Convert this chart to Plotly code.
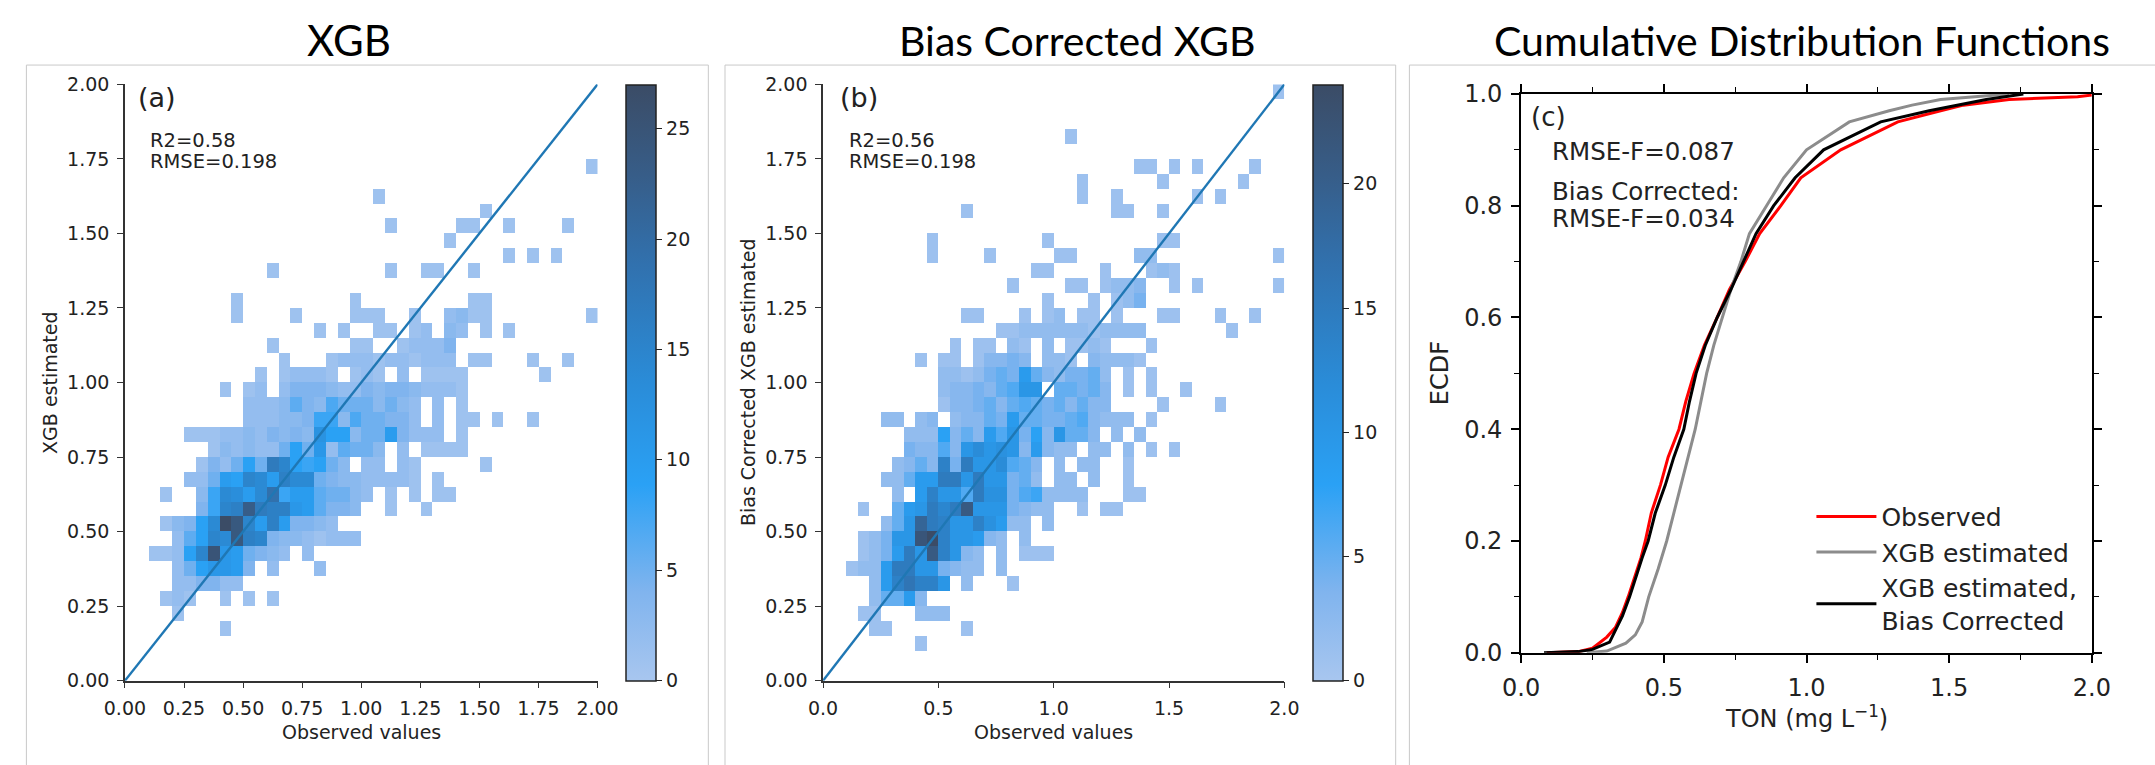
import plotly.graph_objects as go

W, H = 2155, 765

# ---------------------------------------------------------------------------
# 2-D histogram counts, 40 x 40 bins of width 0.05 on [0, 2] x [0, 2].
# One string per y-bin (first string = 0.00-0.05), one base-36 character per
# x-bin ('.' = empty bin), written in groups of ten columns.
# ---------------------------------------------------------------------------
xgb_counts = [
    ".......... .......... .......... ..........",  # 0.00
    ".......... .......... .......... ..........",  # 0.05
    ".......... .......... .......... ..........",  # 0.10
    "........1. .......... .......... ..........",  # 0.15
    "....1..... .......... .......... ..........",  # 0.20
    "...121..1. 1.1....... .......... ..........",  # 0.25
    "....224422 .......... .......... ..........",  # 0.30
    "....259bba 4.2...2... .......... ..........",  # 0.35
    "..1129fpba 5432.2.... .......... ..........",  # 0.40
    "....269feo gf43321222 .......... ..........",  # 0.45
    "...1349ero faga4432.. .......... ..........",  # 0.50
    "......48fg nhggba6443 ..1..1.... ..........",  # 0.55
    "...1..38ed aej8aa6553 2.1.1.11.. ..........",  # 0.60
    ".....225a9 feagee5433 22221.1... ..........",  # 0.65
    "......1425 95hf98953. 22.21..... 1.........",  # 0.70
    ".......132 322595b265 53.2.1111. ..........",  # 0.75
    ".....11122 324343c993 55a4222.1. ..........",  # 0.80
    ".......... 2223348837 55442.2.11 .1..1.....",  # 0.85
    ".......... 2223643755 53532.2.1. ..........",  # 0.90
    "........1. 12.2444322 434432221. ..........",  # 0.95
    ".......... .1.12221.1 21.2.1111. .....1....",  # 1.00
    ".......... ...1...122 21221222.1 1...1..1..",  # 1.05
    ".......... ..1......1 1..12224.. ..........",  # 1.10
    ".......... ......1.1. .11.12.32. 1.1.......",  # 1.15
    ".........1 ....1....1 11..1..231 1........1",  # 1.20
    ".........1 .........1 .........1 1.........",  # 1.25
    ".......... .......... .......... ..........",  # 1.30
    ".......... ..1....... ..1..11..1 ..........",  # 1.35
    ".......... .......... .......... ..1.1.1...",  # 1.40
    ".......... .......... .......1.. ..........",  # 1.45
    ".......... .......... ..1.....11 ..1....1..",  # 1.50
    ".......... .......... .......... 1.........",  # 1.55
    ".......... .......... .1........ ..........",  # 1.60
    ".......... .......... .......... ..........",  # 1.65
    ".......... .......... .......... .........1",  # 1.70
    ".......... .......... .......... ..........",  # 1.75
    ".......... .......... .......... ..........",  # 1.80
    ".......... .......... .......... ..........",  # 1.85
    ".......... .......... .......... ..........",  # 1.90
    ".......... .......... .......... ..........",  # 1.95
]

bc_counts = [
    ".......... .......... .......... ..........",  # 0.00
    ".......... .......... .......... ..........",  # 0.05
    "........1. .......... .......... ..........",  # 0.10
    "....11.... ..1....... .......... ..........",  # 0.15
    "...11...22 2......... .......... ..........",  # 0.20
    "....25593. .......... .......... ..........",  # 0.25
    "....29egee a.2...1... .......... ..........",  # 0.30
    "..1229ffaa 4322.2.... .......... ..........",  # 0.35
    "...1249fal ea32.2.111 .......... ..........",  # 0.40
    "...124aamo eaa932.2.. .......... ..........",  # 0.45
    ".....25ajf eaaeb922.2 .......... ..........",  # 0.50
    "...1..59af dflaaa4322 ..1.11.... ..........",  # 0.55
    "......2.9e aa6fbb4672 222...11.. ..........",  # 0.60
    ".....22599 ffafaa452. 22.2..1... ..........",  # 0.65
    "......2353 e4faac653. 2.22..1... ..........",  # 0.70
    ".......433 63acaba393 22.22.2.1. 1.........",  # 0.75
    ".......222 835396a483 a553.2.2.. ..........",  # 0.80
    ".....22.23 .233549554 4563222.1. ..........",  # 0.85
    ".......... 1334535654 53533....1 ....1.....",  # 0.90
    ".......... 2334356aa. 55453.1.1. .1........",  # 0.95
    ".......... 2212454953 24452.1.1. ..........",  # 1.00
    "........1. 11.13343.2 21.32221.. ..........",  # 1.05
    ".......... .1.11.21.2 .1121...1. ..........",  # 1.10
    ".......... .....11222 22212222.. .....1....",  # 1.15
    ".......... ..11...1.1 2.11.1...1 1...1..1..",  # 1.20
    ".......... .........1 ...1.124.. ..........",  # 1.25
    ".......... ......1... .11.1223.. 1.1......1",  # 1.30
    ".......... ........11 ....1...12 1.........",  # 1.35
    ".........1 ....1..... 11.....22. .........1",  # 1.40
    ".........1 .........1 .........1 1.........",  # 1.45
    ".......... .......... .......... ..........",  # 1.50
    ".......... ..1....... .....11..1 ..........",  # 1.55
    ".......... .......... ..1..1.... ..1.1.....",  # 1.60
    ".......... .......... ..1......1 ......1...",  # 1.65
    ".......... .......... .......11. 1.1....1..",  # 1.70
    ".......... .......... .......... ..........",  # 1.75
    ".......... .......... .1........ ..........",  # 1.80
    ".......... .......... .......... ..........",  # 1.85
    ".......... .......... .......... ..........",  # 1.90
    ".......... .......... .......... .........1",  # 1.95
]

bin_width = 0.05
n_bins = 40
one_to_one = [0.0, 2.0]

# Fit statistics printed in the scatter panels
stats_a = ["R2=0.58", "RMSE=0.198"]
stats_b = ["R2=0.56", "RMSE=0.198"]

# ---------------------------------------------------------------------------
# Empirical CDFs of TON (mg/L): (value, cumulative fraction)
# ---------------------------------------------------------------------------
obs_ton = [0.09, 0.20, 0.25, 0.30, 0.33, 0.355, 0.375, 0.40, 0.42, 0.435, 0.456,
           0.488, 0.515, 0.553, 0.577, 0.606, 0.642, 0.687, 0.73, 0.785, 0.836,
           0.91, 0.98, 1.12, 1.32, 1.47, 1.55, 1.71, 1.95, 2.0]
obs_p = [0.0, 0.002, 0.008, 0.028, 0.045, 0.072, 0.10, 0.14, 0.17, 0.20, 0.25,
         0.30, 0.35, 0.40, 0.45, 0.50, 0.55, 0.60, 0.65, 0.70, 0.75,
         0.80, 0.85, 0.90, 0.95, 0.97, 0.98, 0.99, 0.995, 0.998]

xgb_ton = [0.23, 0.30, 0.367, 0.40, 0.424, 0.447, 0.48, 0.51, 0.535, 0.56, 0.585,
           0.61, 0.63, 0.65, 0.675, 0.706, 0.735, 0.77, 0.80, 0.86, 0.92, 1.0,
           1.15, 1.29, 1.37, 1.47, 1.71]
xgb_p = [0.0, 0.003, 0.017, 0.032, 0.055, 0.10, 0.15, 0.20, 0.25, 0.30, 0.35,
         0.40, 0.45, 0.50, 0.55, 0.60, 0.65, 0.70, 0.75, 0.80, 0.85, 0.90,
         0.95, 0.97, 0.98, 0.99, 1.0]

bc_ton = [0.08, 0.20, 0.25, 0.31, 0.355, 0.38, 0.424, 0.445, 0.47, 0.505, 0.535,
          0.57, 0.59, 0.613, 0.645, 0.687, 0.735, 0.78, 0.823, 0.885, 0.96, 1.06,
          1.26, 1.43, 1.53, 1.63, 1.76]
bc_p = [0.0, 0.002, 0.006, 0.019, 0.066, 0.10, 0.17, 0.20, 0.25, 0.30, 0.35,
        0.40, 0.45, 0.50, 0.55, 0.60, 0.65, 0.70, 0.75, 0.80, 0.85, 0.90,
        0.95, 0.97, 0.98, 0.99, 1.0]

rmse_f_text = ["RMSE-F=0.087", "Bias Corrected:", "RMSE-F=0.034"]

# ---------------------------------------------------------------------------
TICK_FONT = "DejaVu Sans"
TITLE_FONT = "Lato"
INK = "#222222"
SPINE = "#333333"

hist_scale = [
    [0.00, "#a8c6ef"],
    [0.15, "#80b4ee"],
    [0.33, "#2aa1f5"],
    [0.50, "#2a8cd8"],
    [0.70, "#3171ae"],
    [0.85, "#375d88"],
    [1.00, "#3b4c66"],
]


def decode(rows):
    grid = []
    for row in rows:
        chars = row.replace(" ", "")
        grid.append([None if c == "." else int(c, 36) for c in chars])
    return grid


def px_x(x):
    return x / W


def px_y(y):
    return 1 - y / H


centers = [bin_width * (i + 0.5) for i in range(n_bins)]

fig = go.Figure()

# plot areas in page pixels: (left, right, top, bottom)
area_a = (106, 588, 73, 692)
area_b = (818, 1288.5, 73, 692)
area_c = (1530, 2112, 83, 663)
cbar_a_x = 616.7
cbar_b_x = 1318


def add_hist(rows, xa, ya, area, cbar_x):
    z = decode(rows)
    zmax = max(v for r in z for v in r if v is not None)
    top, bottom = area[2], area[3]
    fig.add_trace(go.Heatmap(
        x=centers, y=centers, z=z, xaxis=xa, yaxis=ya,
        colorscale=hist_scale, zmin=0, zmax=zmax, hoverinfo="skip",
        colorbar=dict(
            x=px_x(cbar_x), xanchor="left", xpad=0, ypad=0,
            y=px_y((top + bottom) / 2), yanchor="middle",
            len=(bottom - top) / H, lenmode="fraction",
            thickness=30, outlinecolor=INK, outlinewidth=1.5,
            tickmode="linear", tick0=0, dtick=5,
            ticks="outside", ticklen=6, tickcolor=INK, tickwidth=1.2,
            tickfont=dict(family=TICK_FONT, size=19, color=INK),
        ),
    ))
    fig.add_trace(go.Scatter(
        x=one_to_one, y=one_to_one, xaxis=xa, yaxis=ya, mode="lines",
        line=dict(color="#1f77b4", width=2.4), showlegend=False, hoverinfo="skip",
    ))


add_hist(xgb_counts, "x", "y", area_a, cbar_a_x)
add_hist(bc_counts, "x2", "y2", area_b, cbar_b_x)

# ECDF panel
for xs, ps, name, color in [
    (obs_ton, obs_p, "Observed", "#ff0000"),
    (xgb_ton, xgb_p, "XGB estimated", "#8c8c8c"),
    (bc_ton, bc_p, "XGB estimated,<br>Bias Corrected", "#000000"),
]:
    fig.add_trace(go.Scatter(
        x=xs, y=ps, xaxis="x3", yaxis="y3", mode="lines", name=name,
        line=dict(color=color, width=3), hoverinfo="skip",
    ))


def hist_axes(area, xfmt):
    left, right, top, bottom = area
    common = dict(
        showline=True, linecolor=SPINE, linewidth=1.5, mirror=False,
        ticks="outside", ticklen=6, tickwidth=1.2, tickcolor=SPINE,
        tickfont=dict(family=TICK_FONT, size=19, color=INK),
        showgrid=False, zeroline=False, range=[0, 2], fixedrange=True,
    )
    xa = dict(common, domain=[px_x(left), px_x(right)], tickmode="linear",
              tick0=0, dtick=0.25 if xfmt == ".2f" else 0.5, tickformat=xfmt,
              ticklabelstandoff=4)
    ya = dict(common, domain=[px_y(bottom), px_y(top)], tickmode="linear",
              tick0=0, dtick=0.25, tickformat=".2f", ticklabelstandoff=4)
    return xa, ya


xa1, ya1 = hist_axes(area_a, ".2f")
xa2, ya2 = hist_axes(area_b, ".1f")

ecdf_common = dict(
    showline=True, linecolor="#000000", linewidth=2, mirror="ticks",
    ticks="outside", ticklen=8, tickwidth=1.5, tickcolor="#000000",
    tickfont=dict(family=TICK_FONT, size=24, color=INK),
    showgrid=False, zeroline=False, fixedrange=True,
)
xa3 = dict(ecdf_common, domain=[px_x(area_c[0]), px_x(area_c[1])], range=[0, 2],
           tickmode="linear", tick0=0, dtick=0.5, tickformat=".1f",
           minor=dict(tickmode="linear", tick0=0, dtick=0.25, ticks="outside",
                      ticklen=5, tickcolor="#000000", tickwidth=1.2),
           ticklabelstandoff=4)
ya3 = dict(ecdf_common, domain=[px_y(area_c[3]), px_y(area_c[2])], range=[0, 1],
           tickmode="linear", tick0=0, dtick=0.2, tickformat=".1f",
           minor=dict(tickmode="linear", tick0=0, dtick=0.1, ticks="outside",
                      ticklen=5, tickcolor="#000000", tickwidth=1.2),
           ticklabelstandoff=4)


def note(text, x, y, size, family=TICK_FONT, xanchor="left", angle=0, color=INK):
    return dict(text=text, x=px_x(x), y=px_y(y), xref="paper", yref="paper",
                showarrow=False, xanchor=xanchor, yanchor="middle",
                textangle=angle, font=dict(family=family, size=size, color=color))


annotations = [
    # panel titles
    note("XGB", 335, 27, 42, TITLE_FONT, "center", color="#000000"),
    note("Bias Corrected XGB", 1077, 27, 41, TITLE_FONT, "center", color="#000000"),
    note("Cumulative Distribution Functions", 1816, 27, 41, TITLE_FONT, "center",
         color="#000000"),
    # panel (a)
    note("(a)", 117, 87, 27),
    note(stats_a[0], 130, 131, 19.5),
    note(stats_a[1], 130, 153, 19.5),
    note("Observed values", (area_a[0] + area_a[1]) / 2, 745, 19, xanchor="center"),
    note("XGB estimated", 29, (area_a[2] + area_a[3]) / 2, 19, xanchor="center",
         angle=-90),
    # panel (b)
    note("(b)", 833, 87, 27),
    note(stats_b[0], 842, 131, 19.5),
    note(stats_b[1], 842, 153, 19.5),
    note("Observed values", (area_b[0] + area_b[1]) / 2, 745, 19, xanchor="center"),
    note("Bias Corrected XGB estimated", 741, (area_b[2] + area_b[3]) / 2, 19,
         xanchor="center", angle=-90),
    # panel (c)
    note("(c)", 1538, 107, 26),
    note(rmse_f_text[0], 1559, 143, 24.5),
    note(rmse_f_text[1], 1559, 184, 24.5),
    note(rmse_f_text[2], 1559, 212, 24.5),
    note("TON (mg L<sup>−1</sup>)", (area_c[0] + area_c[1]) / 2, 730, 24,
         xanchor="center"),
    note("ECDF", 1448, (area_c[2] + area_c[3]) / 2, 24, xanchor="center", angle=-90),
]

frame = dict(color="#c9c9c9", width=1)
shapes = [
    dict(type="rect", xref="paper", yref="paper", x0=px_x(5.5), x1=px_x(701),
         y0=-0.2, y1=px_y(53), line=frame),
    dict(type="rect", xref="paper", yref="paper", x0=px_x(718), x1=px_x(1402),
         y0=-0.2, y1=px_y(53), line=frame),
    dict(type="rect", xref="paper", yref="paper", x0=px_x(1416), x1=1.2,
         y0=-0.2, y1=px_y(53), line=frame),
]

fig.update_layout(
    width=W, height=H,
    margin=dict(l=0, r=0, t=0, b=0),
    paper_bgcolor="#ffffff", plot_bgcolor="rgba(0,0,0,0)",
    xaxis=xa1, yaxis=ya1, xaxis2=dict(xa2, anchor="y2"), yaxis2=dict(ya2, anchor="x2"),
    xaxis3=dict(xa3, anchor="y3"), yaxis3=dict(ya3, anchor="x3"),
    annotations=annotations, shapes=shapes,
    showlegend=True,
    legend=dict(
        x=px_x(1826), y=px_y(498), xanchor="left", yanchor="top",
        bgcolor="rgba(0,0,0,0)", borderwidth=0,
        font=dict(family=TICK_FONT, size=25, color=INK),
        itemwidth=60, tracegroupgap=0,
    ),
)

fig.write_html("out.html", include_plotlyjs=True, full_html=True,
               config={"displayModeBar": False})
